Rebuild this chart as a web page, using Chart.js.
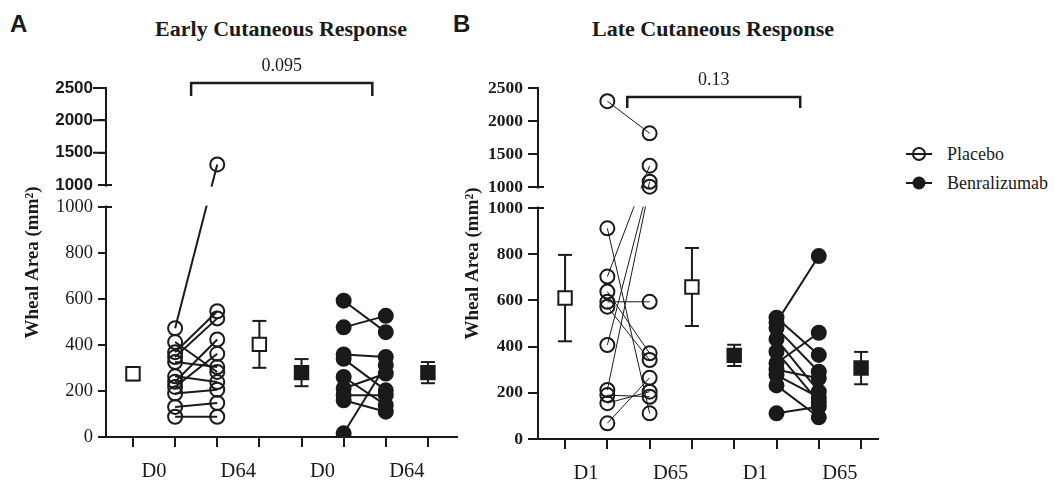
<!DOCTYPE html>
<html>
<head>
<meta charset="utf-8">
<script src="https://cdn.jsdelivr.net/npm/chart.js@4.4.1/dist/chart.umd.min.js"></script>
<style>
  body { margin: 0; background: #fff; width: 1055px; height: 483px; position: relative; overflow: hidden; color: #1a1a1a; }
  canvas { position: absolute; top: 0; }
  .letter { position: absolute; font: bold 24px "Liberation Sans", Arial, sans-serif; line-height: 1; }
  .title { position: absolute; font: bold 22px "Liberation Serif", "Times New Roman", serif; line-height: 1; transform: translateX(-50%); white-space: nowrap; }
  .legend { position: absolute; left: 905px; font: 18px "Liberation Serif", "Times New Roman", serif; line-height: 1; display: flex; align-items: center; }
  .legend svg { margin-right: 14px; }
</style>
</head>
<body>
<div class="letter" style="left:10px;top:12px">A</div>
<div class="letter" style="left:453px;top:12px">B</div>
<div class="title" style="left:281px;top:17.5px">Early Cutaneous Response</div>
<div class="title" style="left:713px;top:17.5px">Late Cutaneous Response</div>
<div class="legend" style="top:145px">
  <svg width="28" height="16"><line x1="1" y1="8" x2="27" y2="8" stroke="#1a1a1a" stroke-width="2"/><circle cx="14" cy="8" r="6" fill="none" stroke="#1a1a1a" stroke-width="2"/></svg><span>Placebo</span>
</div>
<div class="legend" style="top:174px">
  <svg width="28" height="16"><line x1="1" y1="8" x2="27" y2="8" stroke="#1a1a1a" stroke-width="2"/><circle cx="14" cy="8" r="6.5" fill="#1a1a1a"/></svg><span>Benralizumab</span>
</div>
<canvas id="early" width="470" height="483" style="left:0"></canvas>
<canvas id="late" width="605" height="483" style="left:450px"></canvas>
<script>
const INK = '#1a1a1a';

// Early cutaneous response, wheal area (mm2), same subject order pre/post
const earlyPlaceboD0 = [473, 413, 369, 348, 326, 264, 240, 218, 189, 131, 88];
const earlyPlaceboD64 = [1320, 283, 547, 516, 304, 239, 424, 362, 206, 148, 88];
const earlyBenraD0 = [593, 477, 359, 340, 261, 211, 182, 160, 16];
const earlyBenraD64 = [456, 527, 348, 203, 139, 276, 182, 110, 312];
// mean and SEM: placebo pre, placebo post, benra pre, benra post
const earlyMean = [275, 403, 280, 280];
const earlySem = [28, 102, 59, 46];

// Late cutaneous response
const latePlaceboD1 = [2300, 912, 703, 638, 594, 573, 407, 212, 190, 155, 68];
const latePlaceboD65 = [1813, 111, 1323, 371, 594, 342, 1080, 1005, 183, 205, 265];
const lateBenraD1 = [505, 525, 480, 432, 378, 328, 300, 277, 232, 111];
const lateBenraD65 = [792, 364, 291, 205, 160, 460, 263, 180, 94, 140];
const lateMean = [610, 658, 362, 307];
const lateSem = [187, 169, 46, 70];

const xLabelsEarly = ['D0', 'D64', 'D0', 'D64'];
const xLabelsLate = ['D1', 'D65', 'D1', 'D65'];
const lowerTicks = [0, 200, 400, 600, 800, 1000];
const upperTicks = [1000, 1500, 2000, 2500];
const pEarly = '0.095';
const pLate = '0.13';

// column slots along x: mean, pre, post, mean | mean, pre, post, mean
const SLOTS = [0, 1, 2, 3, 4, 5, 6, 7];
const MEAN_SLOTS = [0, 3, 4, 7];

// y axis with a break at 1000: lower part 0-1000, upper part 1000-2500
const LinearScale = Chart.LinearScale || Chart.registry.getScale('linear');
class BrokenScale extends LinearScale {
  buildTicks() {
    return lowerTicks.map(v => ({ value: v }))
      .concat(upperTicks.map(v => ({ value: v, upper: true })));
  }
  parts() {
    const b = this.options.brk;
    const avail = this.bottom - this.top - b.gap;
    const lowH = avail * b.lowShare;
    return { at: b.at, lowH, highH: avail - lowH };
  }
  pixelFor(value, upper) {
    const { at, lowH, highH } = this.parts();
    if (upper || value > at) return this.top + (this.max - value) / (this.max - at) * highH;
    return this.bottom - (value - this.min) / (at - this.min) * lowH;
  }
  getPixelForValue(value) {
    return this.pixelFor(value, false);
  }
  getPixelForTick(index) {
    const t = this.ticks[index];
    return t ? this.pixelFor(t.value, t.upper) : NaN;
  }
  getValueForPixel(pixel) {
    const { at, lowH, highH } = this.parts();
    if (pixel < this.top + highH) return this.max - (pixel - this.top) / highH * (this.max - at);
    return this.min + (this.bottom - pixel) / lowH * (at - this.min);
  }
}
BrokenScale.id = 'broken';
BrokenScale.defaults = {};
Chart.register(BrokenScale);

// white-out the gap before markers are drawn, then draw end caps and p value
const axisBreak = {
  id: 'axisBreak',
  beforeDraw(chart) { chart.$gapDone = false; },
  beforeDatasetDraw(chart, args) {
    if (chart.$gapDone || !chart.data.datasets[args.index].mark) return;
    chart.$gapDone = true;
    const y = chart.scales.y, ctx = chart.ctx, at = y.options.brk.at;
    const hi = y.pixelFor(at, true), lo = y.pixelFor(at, false);
    ctx.save();
    ctx.fillStyle = '#fff';
    ctx.fillRect(y.right - 4, hi + 1.5, chart.chartArea.right - y.right + 8, lo - hi - 3);
    ctx.restore();
  },
  afterDraw(chart, args, opts) {
    const y = chart.scales.y, x = chart.scales.x, ctx = chart.ctx, at = y.options.brk.at;
    const ax = y.right;
    ctx.save();
    ctx.strokeStyle = INK;
    ctx.lineWidth = 2;
    ctx.beginPath();
    [y.pixelFor(at, true), y.pixelFor(at, false)].forEach(p => {
      ctx.moveTo(ax - 1, p); ctx.lineTo(ax + 6, p);
    });
    if (opts.upperTick) {
      upperTicks.slice(1).forEach(v => {
        const p = y.pixelFor(v, true);
        ctx.moveTo(ax - opts.upperTick, p); ctx.lineTo(ax, p);
      });
    }
    ctx.stroke();
    const br = opts.bracket;
    ctx.fillStyle = INK;
    ctx.font = '18px "Liberation Serif", "Times New Roman", serif';
    ctx.textAlign = 'center';
    ctx.textBaseline = 'middle';
    ctx.fillText(br.label, x.getPixelForValue((br.x0 + br.x1) / 2), y.pixelFor(br.top, true) - 17);
    ctx.restore();
  }
};

function makePanel(id, p) {
  const circle = fill => ({ showLine: false, pointStyle: 'circle', pointRadius: 7, pointBorderWidth: 2,
    pointBorderColor: INK, pointBackgroundColor: fill, mark: true });
  const square = fill => ({ showLine: false, pointStyle: 'rect', pointRadius: 9.5, pointBorderWidth: 2,
    pointBorderColor: INK, pointBackgroundColor: fill, mark: true });
  const at = (slot, vals) => vals.map(v => ({ x: slot, y: v }));

  const datasets = [
    { ...square('#fff'), data: [0, 1].map(i => ({ x: MEAN_SLOTS[i], y: p.mean[i] })) },
    { ...square(INK), data: [2, 3].map(i => ({ x: MEAN_SLOTS[i], y: p.mean[i] })) },
    { ...circle('rgba(255,255,255,0)'), data: at(1, p.placebo[0]).concat(at(2, p.placebo[1])) },
    { ...circle(INK), data: at(5, p.benra[0]).concat(at(6, p.benra[1])) }
  ];
  p.placebo[0].forEach((v, i) => datasets.push({ showLine: true, pointRadius: 0, borderColor: INK,
    borderWidth: p.placeboLine, data: [{ x: 1, y: v }, { x: 2, y: p.placebo[1][i] }] }));
  p.benra[0].forEach((v, i) => datasets.push({ showLine: true, pointRadius: 0, borderColor: INK,
    borderWidth: 2, data: [{ x: 5, y: v }, { x: 6, y: p.benra[1][i] }] }));
  p.mean.forEach((m, i) => datasets.push({ showLine: true, borderColor: INK, borderWidth: 2,
    pointStyle: 'line', pointRadius: 7, pointBorderWidth: 2, pointBorderColor: INK,
    data: [{ x: MEAN_SLOTS[i], y: m - p.sem[i] }, { x: MEAN_SLOTS[i], y: m + p.sem[i] }] }));
  const br = p.bracket;
  datasets.push({ showLine: true, pointRadius: 0, borderColor: INK, borderWidth: 2.5, clip: false,
    data: [{ x: br.x0, y: br.leg }, { x: br.x0, y: br.top }, { x: br.x1, y: br.top }, { x: br.x1, y: br.leg }] });

  return new Chart(document.getElementById(id), {
    type: 'scatter',
    data: { datasets },
    plugins: [axisBreak],
    options: {
      responsive: false,
      animation: false,
      events: [],
      devicePixelRatio: 1,
      layout: { padding: { top: 88, right: p.padRight, bottom: 0, left: 0 } },
      plugins: {
        legend: { display: false },
        tooltip: { enabled: false },
        axisBreak: { upperTick: p.upperTick, bracket: br }
      },
      scales: {
        x: {
          type: 'linear', min: -0.64, max: p.xMax,
          afterBuildTicks: s => { s.ticks = SLOTS.map(v => ({ value: v })); },
          afterFit: s => { s.height = p.xHeight; },
          grid: { drawOnChartArea: false, color: INK, lineWidth: 2, tickLength: 10, tickWidth: 2 },
          border: { color: INK, width: 2 },
          ticks: {
            autoSkip: false, maxRotation: 0, padding: 12, labelOffset: 21, color: INK,
            font: { family: '"Liberation Serif", "Times New Roman", serif', size: 20.5 },
            callback: v => (v % 2 === 0 ? p.xLabels[v / 2] : '')
          }
        },
        y: {
          type: 'broken', min: 0, max: 2500,
          brk: p.brk,
          afterFit: s => { s.width = p.yWidth; },
          grid: { drawOnChartArea: false, color: INK, lineWidth: 2, tickLength: p.tickLen, tickWidth: 2 },
          border: { color: INK, width: 2 },
          title: {
            display: true, text: 'Wheal Area (mm²)', color: INK,
            font: { family: '"Liberation Serif", "Times New Roman", serif', size: 19, weight: 'bold' },
            padding: { top: p.titlePad, bottom: 0 }
          },
          ticks: {
            autoSkip: false, padding: 5, color: INK,
            font: ctx => (ctx.tick && ctx.tick.upper ? p.upperFont : p.lowerFont),
            callback: v => String(v)
          }
        }
      }
    }
  });
}

makePanel('early', {
  placebo: [earlyPlaceboD0, earlyPlaceboD64],
  benra: [earlyBenraD0, earlyBenraD64],
  mean: earlyMean, sem: earlySem,
  xLabels: xLabelsEarly,
  xMax: 7.69, xHeight: 46, yWidth: 106, padRight: 13, titlePad: 22, tickLen: 8, upperTick: 13,
  placeboLine: 2,
  brk: { at: 1000, gap: 22, lowShare: 0.703 },
  bracket: { x0: 1.38, x1: 5.68, top: 2577, leg: 2376, label: pEarly },
  upperFont: { family: '"Liberation Sans", Arial, sans-serif', size: 17, weight: 'bold' },
  lowerFont: { family: '"Liberation Serif", "Times New Roman", serif', size: 18.5 }
});

makePanel('late', {
  placebo: [latePlaceboD1, latePlaceboD65],
  benra: [lateBenraD1, lateBenraD65],
  mean: lateMean, sem: lateSem,
  xLabels: xLabelsLate,
  xMax: 7.4, xHeight: 44, yWidth: 88, padRight: 177, titlePad: 12, tickLen: 10, upperTick: 0,
  placeboLine: 1,
  brk: { at: 1000, gap: 21, lowShare: 0.7 },
  bracket: { x0: 1.47, x1: 5.56, top: 2364, leg: 2197, label: pLate },
  upperFont: { family: '"Liberation Serif", "Times New Roman", serif', size: 17.5, weight: 'bold' },
  lowerFont: { family: '"Liberation Serif", "Times New Roman", serif', size: 17.5, weight: 'bold' }
});
</script>
</body>
</html>
